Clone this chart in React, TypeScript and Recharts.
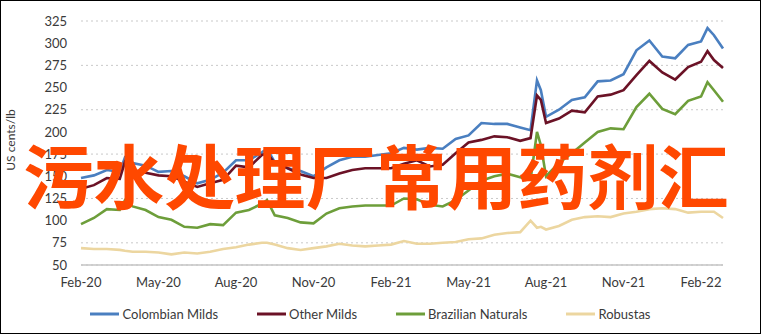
import { CartesianGrid, Legend, Line, LineChart, XAxis, YAxis } from 'recharts'

// months since Feb-20
const monthIndex = [
  0, 0.5, 1, 1.5, 1.7, 2, 2.5, 3, 3.5, 4,
  4.5, 5, 5.5, 6, 6.5, 7, 7.2, 7.5, 8, 8.5,
  9, 9.5, 10, 10.5, 11, 11.5, 12, 12.5, 13, 13.5,
  14, 14.5, 15, 15.5, 16, 16.5, 17, 17.4, 17.65, 17.8,
  18, 18.5, 19, 19.5, 20, 20.5, 21, 21.5, 22, 22.5,
  23, 23.5, 24, 24.25, 24.5, 24.85,
]

const colombianMilds = [
  148, 151, 157, 155, 171, 165, 162, 155, 156, 150,
  142, 146, 154, 168, 168, 177, 181, 166, 159, 156,
  150, 160, 168, 172, 172, 174, 176, 182, 180, 182,
  181, 192, 196, 210, 209, 209, 205, 202, 258, 247,
  217, 225, 236, 239, 257, 258, 265, 292, 303, 285,
  283, 298, 302, 317, 309, 294,
]

const otherMilds = [
  136, 140, 148, 147, 166, 157, 154, 151, 150, 144,
  138, 142, 146, 162, 160, 174, 176, 165, 159, 152,
  148, 148, 153, 157, 159, 159, 159, 164, 168, 161,
  163, 176, 188, 191, 195, 194, 190, 193, 241, 236,
  210, 215, 224, 222, 240, 242, 247, 264, 280, 267,
  259, 273, 279, 291, 281, 272,
]

const brazilianNaturals = [
  96, 103, 113, 112, 123, 116, 112, 104, 101, 93,
  92, 96, 95, 109, 112, 119, 123, 106, 103, 98,
  97, 108, 114, 116, 117, 117, 117, 125, 124, 118,
  116, 123, 134, 145, 150, 153, 149, 146, 200, 185,
  150, 165, 176, 188, 200, 204, 203, 228, 243, 226,
  220, 235, 240, 256, 247, 234,
]

const robustas = [
  69, 68, 68, 67, 66, 65, 65, 64, 62, 64,
  63, 65, 68, 70, 73, 75, 75, 73, 69, 67,
  69, 71, 74, 72, 71, 72, 73, 77, 74, 74,
  75, 76, 79, 80, 84, 86, 87, 100, 92, 93,
  90, 94, 101, 104, 105, 104, 108, 110, 113, 114,
  113, 109, 110, 110, 110, 103,
]

const xTicks = [0, 3, 6, 9, 12, 15, 18, 21, 24]
const xTickLabels = ['Feb-20', 'May-20', 'Aug-20', 'Nov-20', 'Feb-21', 'May-21', 'Aug-21', 'Nov-21', 'Feb-22']
const yTicks = [50, 75, 100, 125, 150, 175, 200, 225, 250, 275, 300, 325]

const series = [
  { key: 'colombian', name: 'Colombian Milds', color: '#4a7fc0' },
  { key: 'other', name: 'Other Milds', color: '#6b1226' },
  { key: 'brazilian', name: 'Brazilian Naturals', color: '#6d9e3a' },
  { key: 'robustas', name: 'Robustas', color: '#ecd6a0' },
]

const font = 'Lato, "Open Sans", sans-serif'
const textColor = '#3a3a3a'

function CoffeeLegend() {
  return (
    <div style={{ display: 'flex', justifyContent: 'center', alignItems: 'center', height: 20, fontFamily: font, fontSize: 13, color: textColor }}>
      {series.map((s, i) => (
        <div key={s.key} style={{ display: 'flex', alignItems: 'center', marginLeft: i === 0 ? 0 : 39 }}>
          <svg width={29} height={4} style={{ marginRight: 3 }}>
            <line x1={0} y1={2} x2={29} y2={2} stroke={s.color} strokeWidth={3} />
          </svg>
          <span>{s.name}</span>
        </div>
      ))}
    </div>
  )
}

export default function App() {
  const data = monthIndex.map((t, i) => ({
    t,
    colombian: colombianMilds[i],
    other: otherMilds[i],
    brazilian: brazilianNaturals[i],
    robustas: robustas[i],
  }))

  return (
    <div style={{ position: 'absolute', left: 0, top: 0, width: 761, height: 334, background: '#fff' }}>
      <LineChart width={761} height={334} data={data} margin={{ top: 21, right: 38, left: 0, bottom: 10 }}>
        <CartesianGrid vertical={false} stroke="#c9c9c9" strokeDasharray="2 3" />
        <XAxis
          dataKey="t"
          type="number"
          domain={[0, 24.85]}
          ticks={xTicks}
          tickFormatter={(v: number) => xTickLabels[xTicks.indexOf(v)]}
          height={39}
          tickLine={false}
          tickMargin={7}
          axisLine={{ stroke: '#c4c4c4', strokeWidth: 1.5 }}
          tick={{ fontSize: 13, fill: textColor, fontFamily: font }}
        />
        <YAxis
          domain={[50, 325]}
          ticks={yTicks}
          width={81}
          tickLine={false}
          axisLine={false}
          tickMargin={8}
          tick={{ fontSize: 13, fill: textColor, fontFamily: font }}
          label={() => (
            <text x={15} y={140} transform="rotate(-90 15 140)" textAnchor="middle" fontSize={12} fill={textColor} fontFamily={font}>
              US cents/lb
            </text>
          )}
        />
        <Legend verticalAlign="bottom" height={20} wrapperStyle={{ left: 0, width: 741 }} content={() => <CoffeeLegend />} />
        {series.map((s) => (
          <Line
            key={s.key}
            type="linear"
            dataKey={s.key}
            name={s.name}
            stroke={s.color}
            strokeWidth={2.6}
            dot={false}
            isAnimationActive={false}
          />
        ))}
      </LineChart>
      <div
        style={{
          position: 'absolute',
          left: 23,
          top: 138,
          fontFamily: '"Noto Sans CJK SC", sans-serif',
          fontWeight: 700,
          fontSize: 70.6,
          lineHeight: '71px',
          color: '#ff4800',
          whiteSpace: 'nowrap',
          pointerEvents: 'none',
        }}
      >
        污水处理厂常用药剂汇
      </div>
      <div style={{ position: 'absolute', inset: 0, border: '1px solid #000', pointerEvents: 'none' }} />
    </div>
  )
}
